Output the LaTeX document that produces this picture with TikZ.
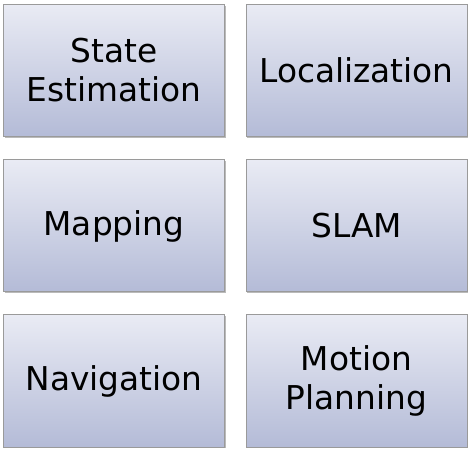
\documentclass[tikz,border=0pt]{standalone}
\usepackage{fontspec}
\setmainfont{DejaVu Sans}
\usetikzlibrary{shadows}
\definecolor{boxtop}{HTML}{E9EBF4}
\definecolor{boxbot}{HTML}{B4BBD7}
\definecolor{boxline}{HTML}{9A9A9A}
\tikzset{
  card/.style={draw=boxline, line width=1pt, top color=boxtop, bottom color=boxbot,
    minimum width=221pt, minimum height=132pt, inner sep=0pt, align=center,
    font=\fontsize{32.8}{39}\selectfont, text=black,
    drop shadow={shadow xshift=1.2pt, shadow yshift=-1.2pt, opacity=0.45, fill=black!60}}
}
\begin{document}
\begin{tikzpicture}[x=1pt,y=1pt]
\useasboundingbox (0,0) rectangle (473,452);
\node[card] (se) at (114,{452-70.5}) {State\\Estimation};
\node[card] (loc) at (356.5,{452-70.5}) {Localization};
\node[card] (map) at (114,{452-226}) {Mapping};
\node[card] (slam) at (356.5,{452-226}) {SLAM};
\node[card] (nav) at (114,{452-381}) {Navigation};
\node[card] (mp) at (356.5,{452-381}) {Motion\\Planning};
\end{tikzpicture}
\end{document}
